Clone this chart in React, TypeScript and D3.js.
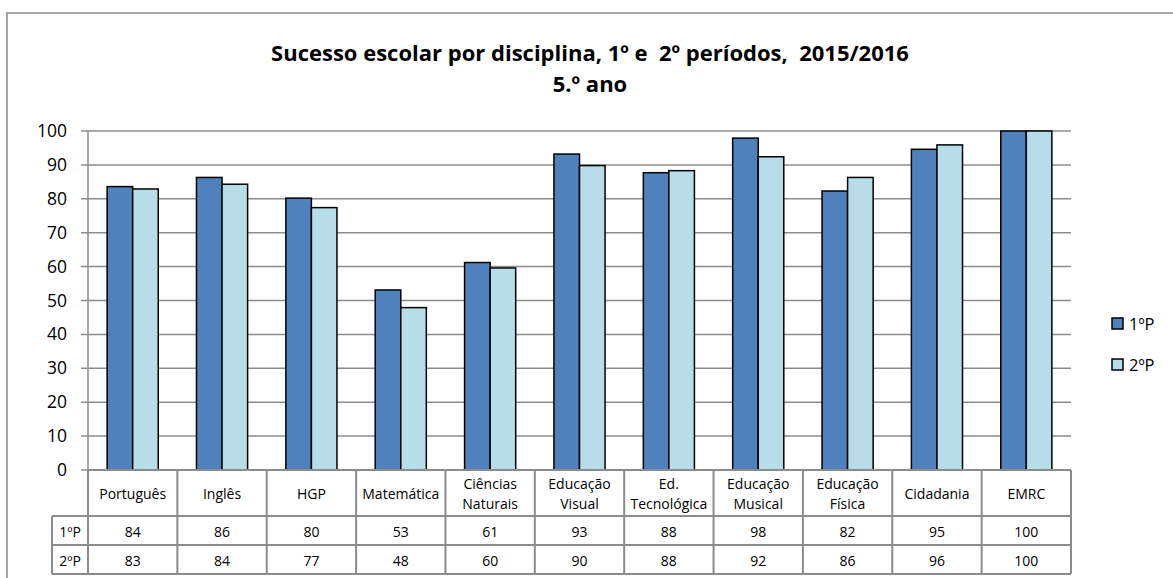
import React from "react";
import * as d3 from "d3";

const categories = [
  ["Português"], ["Inglês"], ["HGP"], ["Matemática"], ["Ciências", "Naturais"],
  ["Educação", "Visual"], ["Ed.", "Tecnológica"], ["Educação", "Musical"],
  ["Educação", "Física"], ["Cidadania"], ["EMRC"],
];
const series1Name = "1ºP";
const series2Name = "2ºP";
const series1 = [83.6, 86.3, 80.2, 53.1, 61.2, 93.2, 87.7, 97.9, 82.3, 94.6, 100];
const series2 = [82.9, 84.3, 77.4, 47.9, 59.6, 89.8, 88.3, 92.4, 86.3, 95.9, 100];
const table1 = ["84", "86", "80", "53", "61", "93", "88", "98", "82", "95", "100"];
const table2 = ["83", "84", "77", "48", "60", "90", "88", "92", "86", "96", "100"];
const yTicks = [0, 10, 20, 30, 40, 50, 60, 70, 80, 90, 100];
const titleLines = ["Sucesso escolar por disciplina, 1º e  2º períodos,  2015/2016", "5.º ano"];

const C1 = "#4F81BD";
const C2 = "#B7DEE8";
const GRID = "#8C8C8C";
const FONT = "'Open Sans', sans-serif";

export default function App() {
  const W = 1173, H = 578;
  const left = 88, right = 1071, top = 131, bottom = 470;
  const y = d3.scaleLinear().domain([0, 100]).range([bottom, top]);
  const x = d3.scaleBand<number>().domain(categories.map((_, i) => i)).range([left, right]).paddingInner(0).paddingOuter(0);
  const bw = x.bandwidth();
  const barW = bw * 0.286;
  const row0 = bottom, row1 = 516, row2 = 545, row3 = 574;
  const tableLeft = 52;

  return (
    <svg width={W} height={H} style={{ position: "absolute", left: 0, top: 0, background: "#fff" }}>
      <rect x={7} y={13} width={W + 20} height={H + 20} fill="#fff" stroke="#898989" strokeWidth={1.5} />
      {titleLines.map((t, i) => (
        <text key={i} x={590} y={61 + i * 31} textAnchor="middle" fontFamily={FONT} fontWeight="bold" fontSize={22} fill="#000" style={{ whiteSpace: "pre" }}>{t}</text>
      ))}
      {/* gridlines */}
      {yTicks.map(v => (
        <g key={v}>
          <line x1={left - 7} x2={right} y1={y(v)} y2={y(v)} stroke={GRID} strokeWidth={1.5} />
          <text x={67} y={y(v) + 6} textAnchor="end" fontFamily={FONT} fontSize={17.5} fill="#000">{v}</text>
        </g>
      ))}
      <line x1={left} x2={left} y1={top} y2={bottom} stroke={GRID} strokeWidth={1.5} />
      {/* bars */}
      {categories.map((_, i) => {
        const c = (x(i) as number) + bw / 2;
        return (
          <g key={i}>
            <rect x={c - barW} y={y(series1[i])} width={barW} height={bottom - y(series1[i])} fill={C1} stroke="#000" strokeWidth={1.5} />
            <rect x={c} y={y(series2[i])} width={barW} height={bottom - y(series2[i])} fill={C2} stroke="#000" strokeWidth={1.5} />
          </g>
        );
      })}
      {/* table */}
      <g stroke={GRID} strokeWidth={2} fill="none">
        <line x1={left} x2={right} y1={row0} y2={row0} />
        <line x1={tableLeft} x2={right} y1={row1} y2={row1} />
        <line x1={tableLeft} x2={right} y1={row2} y2={row2} />
        <line x1={tableLeft} x2={right} y1={row3} y2={row3} />
        <line x1={tableLeft} x2={tableLeft} y1={row1} y2={row3} />
        {categories.map((_, i) => (
          <line key={i} x1={x(i) as number} x2={x(i) as number} y1={row0} y2={row3} />
        ))}
        <line x1={right} x2={right} y1={row0} y2={row3} />
      </g>
      {categories.map((lines, i) => {
        const c = (x(i) as number) + bw / 2;
        const mid = (row0 + row1) / 2;
        return (
          <g key={i} fontFamily={FONT} fontSize={14} fill="#000" textAnchor="middle">
            {lines.map((l, k) => (
              <text key={k} x={c} y={mid + 6 + (k - (lines.length - 1) / 2) * 20}>{l}</text>
            ))}
            <text x={c} y={(row1 + row2) / 2 + 6}>{table1[i]}</text>
            <text x={c} y={(row2 + row3) / 2 + 6}>{table2[i]}</text>
          </g>
        );
      })}
      <text x={(tableLeft + left) / 2} y={(row1 + row2) / 2 + 6} textAnchor="middle" fontFamily={FONT} fontSize={14}>{series1Name}</text>
      <text x={(tableLeft + left) / 2} y={(row2 + row3) / 2 + 6} textAnchor="middle" fontFamily={FONT} fontSize={14}>{series2Name}</text>
      {/* legend */}
      {[series1Name, series2Name].map((n, i) => (
        <g key={n}>
          <rect x={1112} y={318 + i * 41} width={11} height={11} fill={i === 0 ? C1 : C2} stroke="#000" strokeWidth={1.5} />
          <text x={1129} y={329.5 + i * 41} fontFamily={FONT} fontSize={16.5} fill="#000">{n}</text>
        </g>
      ))}
    </svg>
  );
}
